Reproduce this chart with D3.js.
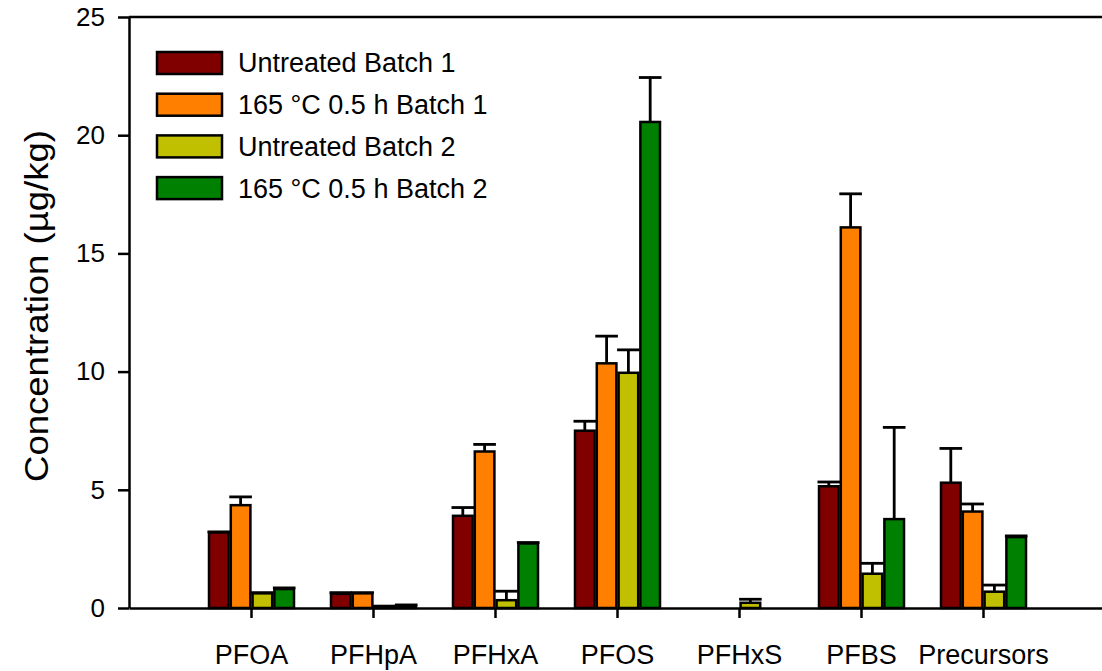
<!DOCTYPE html>
<html>
<head>
<meta charset="utf-8">
<script src="https://cdn.jsdelivr.net/npm/d3@7"></script>
<style>
  body { margin: 0; background: #fff; }
  svg { display: block; font-family: "Liberation Sans", Arial, sans-serif; }
</style>
</head>
<body>
<svg width="1102" height="671"></svg>
<script>
// data
const categories = ['PFOA', 'PFHpA', 'PFHxA', 'PFOS', 'PFHxS', 'PFBS', 'Precursors'];
const seriesNames = ['Untreated Batch 1', '165 °C 0.5 h Batch 1', 'Untreated Batch 2', '165 °C 0.5 h Batch 2'];
const seriesColors = ['#800000', '#ff8000', '#c0c000', '#008000'];

const untreated1 = [3.2, 0.6, 3.9, 7.5, 0, 5.15, 5.3];
const untreated1Err = [0.02, 0.05, 0.35, 0.4, 0, 0.18, 1.45];
const treated1 = [4.35, 0.62, 6.62, 10.35, 0, 16.1, 4.08];
const treated1Err = [0.35, 0.03, 0.3, 1.15, 0, 1.42, 0.32];
const untreated2 = [0.62, 0.05, 0.33, 9.95, 0.22, 1.45, 0.69];
const untreated2Err = [0.03, 0.03, 0.38, 0.97, 0.15, 0.44, 0.28];
const treated2 = [0.8, 0.08, 2.73, 20.56, 0, 3.76, 3.0];
const treated2Err = [0.05, 0.05, 0.04, 1.88, 0, 3.88, 0.05];

const yTicks = [0, 5, 10, 15, 20, 25];

(function() {
  const svg = d3.select('svg');
  const width = +svg.attr('width');

  const values = [untreated1, treated1, untreated2, treated2];
  const errors = [untreated1Err, treated1Err, untreated2Err, treated2Err];

  const left = 129, top = 17, bottom = 608;

  const x = d3.scaleLinear().domain([0, categories.length + 1]).range([left, 1105]);
  const y = d3.scaleLinear().domain([0, 25]).range([bottom, top]);
  const inner = d3.scaleBand().domain(seriesNames).range([-42, 43]).paddingInner(0.1);

  // flatten to one record per bar
  const bars = [];
  categories.forEach((c, i) => {
    seriesNames.forEach((s, j) => {
      bars.push({ cat: i, series: s, color: seriesColors[j], v: values[j][i], e: errors[j][i] });
    });
  });
  const shown = bars.filter(d => d.v > 0);

  const plot = svg.append('g');

  plot.selectAll('rect.bar')
    .data(shown)
    .join('rect')
      .attr('class', 'bar')
      .attr('x', d => x(d.cat + 1) + inner(d.series))
      .attr('width', inner.bandwidth())
      .attr('y', d => y(d.v))
      .attr('height', d => y(0) - y(d.v))
      .attr('fill', d => d.color)
      .attr('stroke', '#000')
      .attr('stroke-width', 2.5);

  // error bars (upper only)
  const err = plot.selectAll('g.err')
    .data(shown)
    .join('g')
      .attr('class', 'err')
      .attr('stroke', '#000')
      .attr('stroke-width', 2.8);
  err.append('line')
    .attr('x1', d => x(d.cat + 1) + inner(d.series) + inner.bandwidth() / 2)
    .attr('x2', d => x(d.cat + 1) + inner(d.series) + inner.bandwidth() / 2)
    .attr('y1', d => y(d.v))
    .attr('y2', d => y(d.v + d.e));
  err.append('line')
    .attr('x1', d => x(d.cat + 1) + inner(d.series) - 1.5)
    .attr('x2', d => x(d.cat + 1) + inner(d.series) + inner.bandwidth() + 1.5)
    .attr('y1', d => y(d.v + d.e))
    .attr('y2', d => y(d.v + d.e));

  // axes
  const yAxis = svg.append('g')
    .attr('transform', `translate(${left},0)`)
    .call(d3.axisLeft(y).tickValues(yTicks).tickSize(11).tickSizeOuter(0).tickPadding(13));
  const xAxis = svg.append('g')
    .attr('transform', `translate(0,${bottom})`)
    .call(d3.axisBottom(x).tickValues(d3.range(1, categories.length + 1))
      .tickFormat(d => categories[d - 1]).tickSize(10).tickSizeOuter(0));

  [yAxis, xAxis].forEach(a => {
    a.selectAll('path, line').attr('stroke', '#000').attr('stroke-width', 2.5);
    a.selectAll('text').attr('fill', '#000').attr('font-family', '"Liberation Sans", Arial, sans-serif');
  });
  yAxis.selectAll('text').attr('font-size', 26);
  xAxis.selectAll('text').attr('font-size', 27).attr('y', 56).attr('dy', 0);

  // top frame line
  svg.append('line')
    .attr('x1', left).attr('x2', width)
    .attr('y1', top).attr('y2', top)
    .attr('stroke', '#000').attr('stroke-width', 2.5);

  // y title
  svg.append('text')
    .attr('transform', `translate(48,306) rotate(-90)`)
    .attr('text-anchor', 'middle')
    .attr('font-size', 33)
    .attr('textLength', 352)
    .attr('lengthAdjust', 'spacingAndGlyphs')
    .text('Concentration (µg/kg)');

  // legend
  const legend = svg.append('g').attr('transform', 'translate(157,52)');
  const rows = legend.selectAll('g')
    .data(seriesNames)
    .join('g')
      .attr('transform', (d, i) => `translate(0,${i * 41.7})`);
  rows.append('rect')
    .attr('width', 65).attr('height', 22)
    .attr('fill', (d, i) => seriesColors[i])
    .attr('stroke', '#000').attr('stroke-width', 2.5);
  rows.append('text')
    .attr('x', 81).attr('y', 11).attr('dy', '0.35em')
    .attr('font-size', 27)
    .text(d => d);
})();
</script>
</body>
</html>
